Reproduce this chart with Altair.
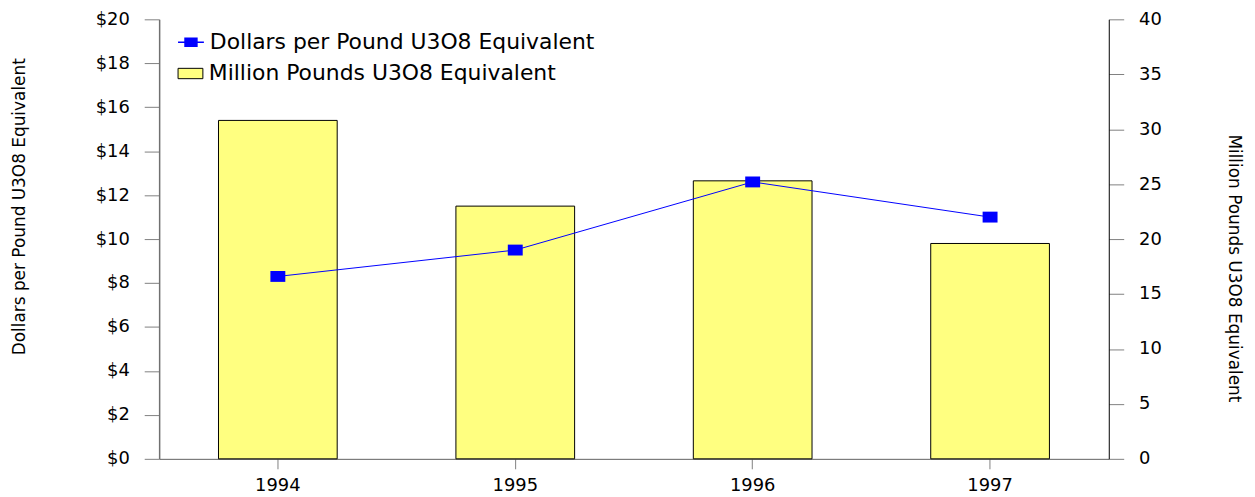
import altair as alt
import pandas as pd

years = ["1994", "1995", "1996", "1997"]
price = [8.3, 9.5, 12.6, 11.0]
pounds = [30.8, 23.0, 25.3, 19.6]
price_name = "Dollars per Pound U3O8 Equivalent"
pounds_name = "Million Pounds U3O8 Equivalent"

left_ticks = list(range(0, 21, 2))
right_ticks = list(range(0, 41, 5))

bar_df = pd.DataFrame({"year": years, "value": pounds, "series": [pounds_name] * len(years)})
line_df = pd.DataFrame({"year": years, "value": price, "series": [price_name] * len(years)})

FONT = "DejaVu Sans"
BLUE = "#0000FF"
YELLOW = "#FFFF80"

x_enc = alt.X(
    "year:N",
    sort=years,
    scale=alt.Scale(paddingInner=0.5, paddingOuter=0.25),
    axis=alt.Axis(
        title=None, labelAngle=0, tickSize=10, tickColor="#808080",
        domainColor="#606060", labelPadding=8, labelFontSize=18, labelFont=FONT,
        labelColor="black",
    ),
)

bars = alt.Chart(bar_df).mark_bar(stroke="#000000", strokeWidth=1, opacity=1).encode(
    x=x_enc,
    y=alt.Y(
        "value:Q",
        scale=alt.Scale(domain=[0, 40], nice=False),
        axis=alt.Axis(
            orient="right", values=right_ticks, title=pounds_name,
            tickSize=15, tickColor="#808080", domainColor="#000000",
            labelPadding=15, labelFontSize=18, labelFont=FONT, labelColor="black",
            titleFont=FONT, titleFontSize=17, titleFontWeight="normal",
            titleAngle=90, titleX=125, titleY=250, titleBaseline="middle",
            titleAlign="center", grid=False,
        ),
    ),
    fill=alt.Fill(
        "series:N",
        scale=alt.Scale(range=[YELLOW]),
        legend=alt.Legend(
            title=None, orient="none", legendX=18, legendY=41, padding=0,
            symbolType="M-0.96,-0.4L0.96,-0.4L0.96,0.4L-0.96,0.4Z",
            symbolSize=676, symbolStrokeColor="#000000", symbolStrokeWidth=1,
            labelFont=FONT, labelFontSize=22, labelOffset=5, labelColor="black",
            labelLimit=600,
        ),
    ),
)

y_left = alt.Y(
    "value:Q",
    scale=alt.Scale(domain=[0, 20], nice=False),
    axis=alt.Axis(
        orient="left", values=left_ticks, labelExpr="'$' + datum.value",
        title=price_name, tickSize=15, tickColor="#808080", domainColor="#707070",
        domainWidth=1.5, labelPadding=15, labelFontSize=18, labelFont=FONT,
        labelColor="black", titleFont=FONT, titleFontSize=17,
        titleFontWeight="normal", titleAngle=-90, titleX=-140, titleY=188,
        titleBaseline="middle", titleAlign="center", grid=False,
    ),
)

line = alt.Chart(line_df).mark_line(color=BLUE, strokeWidth=1).encode(
    x=alt.X("year:N", sort=years),
    y=y_left,
)

points = alt.Chart(line_df).mark_point(
    filled=True, shape="M-1,-0.73L1,-0.73L1,0.73L-1,0.73Z", size=225,
    stroke=BLUE, strokeWidth=0, opacity=1,
).encode(
    x=alt.X("year:N", sort=years),
    y=alt.Y("value:Q"),
    fill=alt.Fill(
        "series:N",
        scale=alt.Scale(range=[BLUE]),
        legend=alt.Legend(
            title=None, orient="none", legendX=18, legendY=9, padding=0,
            symbolType="M-1,0L-0.46,0M0.46,0L1,0M-0.46,-0.31L0.46,-0.31L0.46,0.31L-0.46,0.31Z",
            symbolSize=676, symbolStrokeColor=BLUE, symbolStrokeWidth=1.5,
            symbolFillColor=BLUE,
            labelFont=FONT, labelFontSize=22, labelOffset=5, labelColor="black",
            labelLimit=600,
        ),
    ),
)

chart = (
    alt.layer(bars, alt.layer(line, points))
    .resolve_scale(y="independent", fill="independent")
    .properties(
        width=955,
        height=442,
        autosize=alt.AutoSizeParams(type="none"),
        padding={"left": 152, "top": 10, "right": 139, "bottom": 37},
    )
    .configure_view(stroke=None)
    .configure_axis(grid=False)
)

chart.save("out.html", embed_options={"renderer": "svg", "actions": False})
